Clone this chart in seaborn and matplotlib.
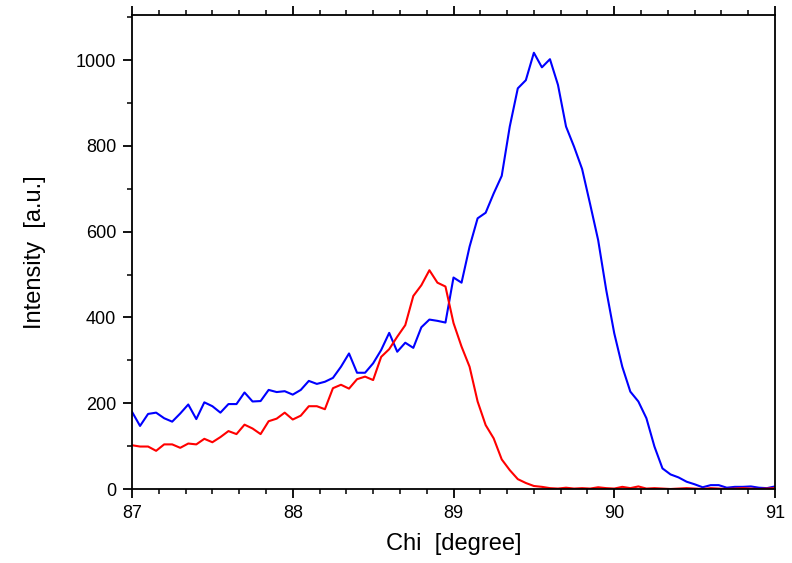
import numpy as np
import pandas as pd
import matplotlib
matplotlib.use("Agg")
import matplotlib.pyplot as plt
import seaborn as sns
from matplotlib.ticker import MultipleLocator, AutoMinorLocator

chi = [round(87 + 0.05 * i, 2) for i in range(81)]

blue = [180, 147, 175, 178, 165, 157, 176, 197, 163, 202,
        193, 178, 198, 198, 225, 204, 205, 231, 226, 228,
        220, 231, 252, 245, 250, 259, 285, 316, 271, 271,
        293, 324, 364, 320, 341, 329, 377, 395, 392, 388,
        493, 481, 565, 631, 644, 689, 730, 845, 934, 953,
        1017, 983, 1002, 942, 845, 798, 746, 664, 580, 464,
        363, 285, 227, 204, 165, 99, 48, 34, 27, 17,
        11, 4, 9, 9, 3, 5, 5, 6, 3, 2, 6]

red = [102, 99, 99, 89, 104, 104, 96, 106, 104, 117,
       109, 121, 135, 128, 150, 141, 128, 158, 164, 178,
       162, 171, 193, 193, 186, 235, 243, 234, 256, 262,
       254, 308, 326, 355, 382, 450, 475, 510, 481, 472,
       387, 332, 285, 204, 149, 118, 69, 44, 23, 14,
       7, 5, 2, 1, 3, 1, 2, 1, 4, 2,
       1, 5, 2, 6, 1, 2, 1, 0, 1, 2,
       1, 0, 2, 1, 0, 1, 2, 1, 0, 1, 2]

df = pd.DataFrame({"Chi": chi * 2,
                   "Intensity": blue + red,
                   "series": ["blue"] * len(chi) + ["red"] * len(chi)})

sns.set_style("white")
plt.rcParams["font.family"] = ["Liberation Sans", "DejaVu Sans"]

fig = plt.figure(figsize=(7.92, 5.63), dpi=100)
ax = fig.add_axes([132 / 792, 74 / 563, 643 / 792, 474 / 563])

sns.lineplot(data=df, x="Chi", y="Intensity", hue="series",
             palette={"blue": "#0000FF", "red": "#FF0000"},
             linewidth=1.5, legend=False, ax=ax, sort=False)

ax.set_xlim(87, 91)
ax.set_ylim(0, 1105)
ax.xaxis.set_major_locator(MultipleLocator(1))
ax.xaxis.set_minor_locator(AutoMinorLocator(6))
ax.yaxis.set_major_locator(MultipleLocator(200))
ax.yaxis.set_minor_locator(AutoMinorLocator(2))

for s in ax.spines.values():
    s.set_visible(True)
    s.set_color("black")
    s.set_linewidth(1.3)

ax.tick_params(axis="both", which="major", direction="out", length=6.5, width=1.3,
               color="black", labelsize=13, labelcolor="black", pad=5)
ax.tick_params(axis="both", which="minor", direction="out", length=3.8, width=1.1,
               color="black")
ax.tick_params(axis="x", which="both", top=True, bottom=True, labeltop=False)
ax.tick_params(axis="y", which="both", left=True, right=False)

ax.set_xlabel("Chi  [degree]", fontsize=17, color="black", labelpad=8)
ax.set_ylabel("Intensity  [a.u.]", fontsize=17, color="black", labelpad=21)

fig.savefig("out.png", dpi=100)
